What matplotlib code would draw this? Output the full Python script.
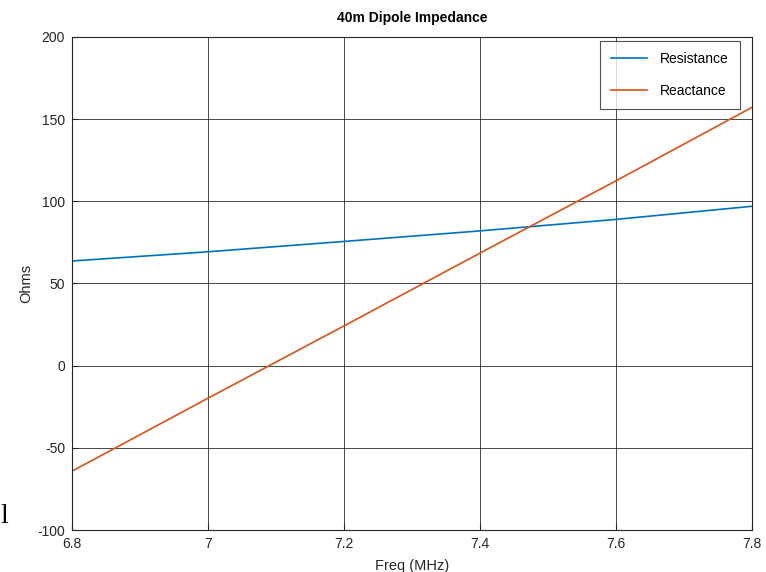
import matplotlib
matplotlib.use("Agg")
import matplotlib.pyplot as plt

freq = [6.8, 7.0, 7.2, 7.4, 7.6, 7.8]
resistance = [63.7, 69.3, 75.6, 82.0, 89.0, 97.0]
reactance = [-64.2, -19.8, 24.2, 68.5, 112.5, 157.2]
xticks = [6.8, 7.0, 7.2, 7.4, 7.6, 7.8]
xticklabels = ["6.8", "7", "7.2", "7.4", "7.6", "7.8"]
yticks = [-100, -50, 0, 50, 100, 150, 200]

plt.rcParams['font.family'] = ['Liberation Sans', 'DejaVu Sans']
plt.rcParams['axes.unicode_minus'] = False

fig = plt.figure(figsize=(7.66, 5.72), dpi=100)
ax = fig.add_axes([72/766, 42/572, 680/766, 493/572])

ax.plot(freq, resistance, color='#0072BD', lw=1.2, label='Resistance')
ax.plot(freq, reactance, color='#D95319', lw=1.2, label='Reactance')

ax.set_xlim(6.8, 7.8)
ax.set_ylim(-100, 200)
ax.set_xticks(xticks)
ax.set_xticklabels(xticklabels)
ax.set_yticks(yticks)
ax.grid(True, color='#262626', alpha=0.85, lw=0.7)
ax.set_axisbelow(True)
ax.tick_params(direction='in', length=4, labelsize=10, colors='#262626', pad=5)
for s in ax.spines.values():
    s.set_color('#262626')
    s.set_linewidth(0.8)

ax.set_title('40m Dipole Impedance', fontsize=10, fontweight='bold', pad=11)
ax.set_xlabel('Freq (MHz)', fontsize=10.5, color='#262626', labelpad=6)
ax.set_ylabel('Ohms', fontsize=10.5, color='#262626', labelpad=3)

leg = ax.legend(loc='upper right', fontsize=10, frameon=True, fancybox=False,
                edgecolor='#262626', borderpad=0.8, labelspacing=1.3,
                handlelength=2.6, handletextpad=0.9, borderaxespad=0.3,
                bbox_to_anchor=(1 - 8/680, 1))
leg.get_frame().set_linewidth(0.8)

fig.text(0/766, 1 - 523/572, 'l', fontsize=20, family=['Liberation Serif', 'DejaVu Serif'],
         color='black')

fig.savefig('out.png', dpi=100)
